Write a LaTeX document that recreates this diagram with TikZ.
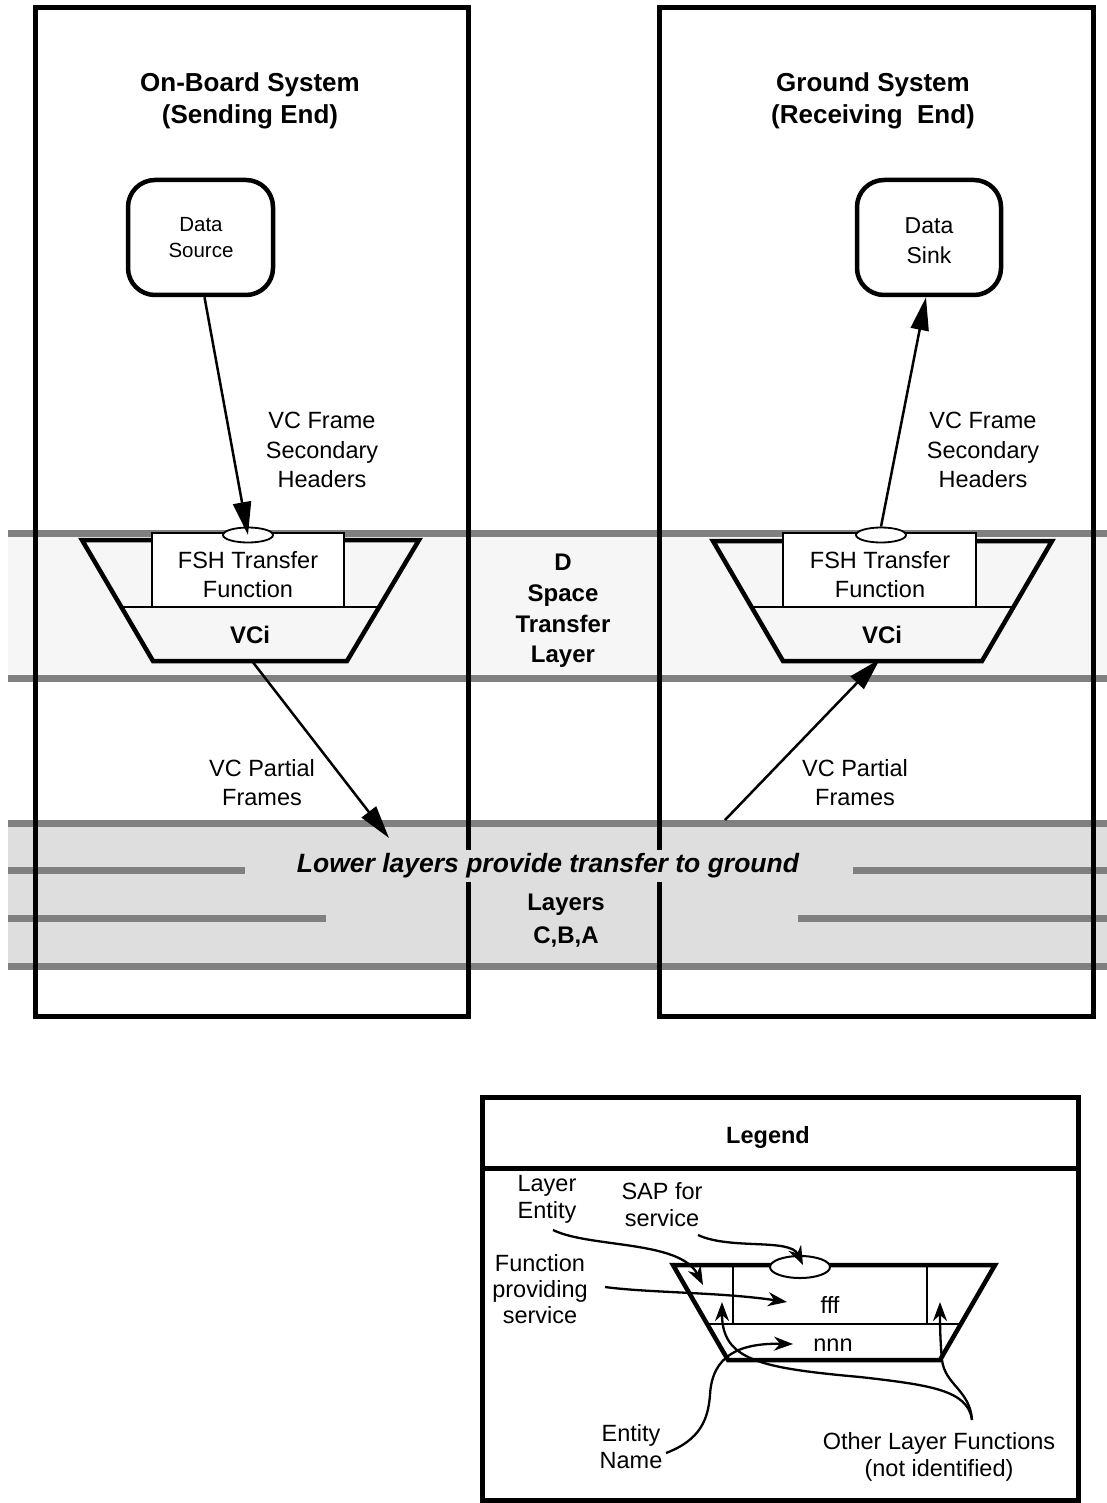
\documentclass[tikz,border=0pt]{standalone}
\usepackage{fontspec}
\setmainfont{Liberation Sans}
\usetikzlibrary{arrows.meta,shapes.geometric}
\definecolor{bandA}{HTML}{F6F6F6}
\definecolor{bandB}{HTML}{DEDEDE}
\definecolor{bandline}{HTML}{808080}
\begin{document}
\begin{tikzpicture}[x=1pt,y=-1pt,
  panel/.style={draw, line width=5pt},
  bandln/.style={draw=bandline, line width=7pt},
  trap/.style={draw, line width=4.5pt, fill=bandA, line join=miter},
  legtrap/.style={draw, line width=4.5pt, line join=miter},
  thinln/.style={draw, line width=2pt},
  fshbox/.style={draw, line width=1.8pt, fill=white, minimum width=192pt, minimum height=74pt, inner sep=0pt},
  sapnode/.style={ellipse, draw, line width=1.8pt, fill=white, inner sep=0pt},
  roundbox/.style={draw, line width=4.5pt, rounded corners=27pt, minimum width=145pt, minimum height=115pt, inner sep=0pt},
  bigarrow/.style={line width=2.5pt, -{Triangle[length=33pt,width=18pt]}},
  legarrow/.style={line width=2.3pt, -{Stealth[length=19pt,width=14pt,inset=6pt]}},
  txt/.style={font=\fontsize{23.5}{29.5}\selectfont, align=center, inner sep=0pt},
  btxt/.style={font=\fontsize{24}{30.7}\selectfont\bfseries, align=center, inner sep=0pt},
  title/.style={font=\fontsize{26}{32}\selectfont\bfseries, align=center, inner sep=0pt}
]
\useasboundingbox (0,0) rectangle (1107,1503);

% bands
\fill[bandA] (8,533) rectangle (1107,678);
\fill[bandB] (8,823) rectangle (1107,966);
\draw[bandln] (8,533) -- (1107,533);
\draw[bandln] (8,678) -- (1107,678);
\draw[bandln] (8,823) -- (1107,823);
\draw[bandln] (8,966) -- (1107,966);
\draw[bandln] (8,870) -- (245,870);
\draw[bandln] (853,870) -- (1107,870);
\draw[bandln] (8,918) -- (326,918);
\draw[bandln] (798,918) -- (1107,918);

% left layer entity
\draw[trap] (82,540) -- (419,540) -- (347,661) -- (153,661) -- cycle;
\draw[thinln] (121,607) -- (380,607);
\node[fshbox] (fsh1) at (248,570) {};
\node[txt] (fsh1txt) at (248,574.5) {FSH Transfer\\Function};
\node[sapnode, minimum width=50pt, minimum height=15pt] (sap1) at (248,535) {};
\node[btxt] (vci1) at (250,635) {VCi};
\coordinate (vci1b) at (252,661);

% right layer entity
\draw[trap] (713,541) -- (1052,541) -- (982,661) -- (783,661) -- cycle;
\draw[thinln] (752,607) -- (1013,607);
\node[fshbox, minimum width=193pt] (fsh2) at (879.5,570) {};
\node[txt] (fsh2txt) at (880,574.5) {FSH Transfer\\Function};
\node[sapnode, minimum width=50pt, minimum height=15pt] (sap2) at (881,535) {};
\node[btxt] (vci2) at (882,635) {VCi};
\coordinate (vci2b) at (880,659);

% panels
\draw[panel] (35,8) rectangle (468,1016);
\draw[panel] (659,8) rectangle (1093,1016);

% titles
\node[title] (t1) at (250,101) {On-Board System\\(Sending End)};
\node[title] (t2) at (873,101) {Ground System\\(Receiving~~End)};

% data boxes
\node[roundbox] (source) at (200.5,237.5) {};
\node[font=\fontsize{20.5}{26}\selectfont, align=center, inner sep=0pt] (sourcetxt) at (201,238) {Data\\Source};
\node[roundbox, minimum width=144pt] (sink) at (929,237.5) {};
\node[font=\fontsize{23}{30}\selectfont, align=center, inner sep=0pt] (sinktxt) at (929,241) {Data\\Sink};

% labels
\node[txt] (vcf1) at (322,450) {VC Frame\\Secondary\\Headers};
\node[txt] (vcf2) at (983,450) {VC Frame\\Secondary\\Headers};
\node[btxt] (dlayer) at (563,611) {D\\Space\\Transfer\\Layer};
\node[txt, font=\fontsize{23.5}{29}\selectfont] (vcp1) at (262,782.5) {VC Partial\\Frames};
\node[txt, font=\fontsize{23.5}{29}\selectfont] (vcp2) at (855,782.5) {VC Partial\\Frames};

% arrows
\coordinate (lowL) at (389,838);
\coordinate (lowR) at (725,820);
\draw[bigarrow] ([xshift=4pt]source.south) -- (sap1.center);
\draw[bigarrow] (sap2.north) -- ([xshift=-3pt]sink.south);
\draw[bigarrow] (vci1b) -- (lowL);
\draw[bigarrow] (lowR) -- (vci2b);

% lower layers text
\node[font=\fontsize{26.5}{30}\selectfont\bfseries\itshape, fill=bandB, inner xsep=2pt, inner ysep=4pt] (lower) at (548,866) {Lower layers provide transfer to ground};
\node[btxt, font=\fontsize{24}{33}\selectfont\bfseries] (abc) at (566,920.5) {Layers\\C,B,A};

% legend
\draw[panel] (482,1097) rectangle (1078,1500);
\draw[panel] (482,1168) -- (1078,1168);
\node[btxt, font=\fontsize{23.5}{29}\selectfont\bfseries] (legend) at (768,1137) {Legend};

\draw[legtrap] (673,1265) -- (995,1265) -- (940,1360) -- (728,1360) -- cycle;
\draw[thinln] (707,1324) -- (961,1324);
\draw[thinln] (733,1265) -- (733,1324);
\draw[thinln] (927,1265) -- (927,1324);
\node[sapnode, line width=2pt, minimum width=60pt, minimum height=22pt] (sapL) at (800,1267) {};
\node[txt] (fff) at (830,1305) {fff};
\node[txt] (nnn) at (833,1345) {nnn};

\node[txt, font=\fontsize{23.5}{27}\selectfont] (lentity) at (547,1199.5) {Layer\\Entity};
\node[txt, font=\fontsize{23.5}{27}\selectfont] (lsap) at (662,1204.5) {SAP for\\service};
\node[txt, font=\fontsize{23.5}{26}\selectfont] (lfunc) at (540,1289.5) {Function\\providing\\service};
\node[txt, font=\fontsize{23.5}{27}\selectfont] (lname) at (631,1446.5) {Entity\\Name};
\node[txt, font=\fontsize{23.5}{27}\selectfont] (lother) at (939,1457) {Other Layer Functions\\(not identified)};

\coordinate (a1s) at (553,1230);
\coordinate (a1e) at (703,1285);
\coordinate (a2s) at (698,1235);
\coordinate (a2e) at (803,1265);
\coordinate (a3s) at (605,1287);
\coordinate (a3e) at (787,1302);
\coordinate (a4s) at (666,1453);
\coordinate (a4e) at (793,1344);
\coordinate (a5s) at (972,1420);
\coordinate (a5l) at (722,1302);
\coordinate (a5r) at (940,1302);

\draw[legarrow] (a1s) .. controls (590,1248) and (680,1240) .. (a1e);
\draw[legarrow] (a2s) .. controls (730,1250) and (790,1238) .. (a2e);
\draw[legarrow] (a3s) .. controls (650,1293) and (720,1292) .. (a3e);
\draw[legarrow] (a4s) .. controls (700,1440) and (708,1420) .. (710,1395) .. controls (712,1355) and (740,1343) .. (a4e);
\draw[legarrow] (a5s) .. controls (968,1390) and (930,1385) .. (860,1377) .. controls (760,1368) and (722,1360) .. (a5l);
\draw[legarrow] (a5s) .. controls (970,1390) and (945,1385) .. (942,1360) .. controls (940,1340) and (940,1320) .. (a5r);
\end{tikzpicture}
\end{document}
